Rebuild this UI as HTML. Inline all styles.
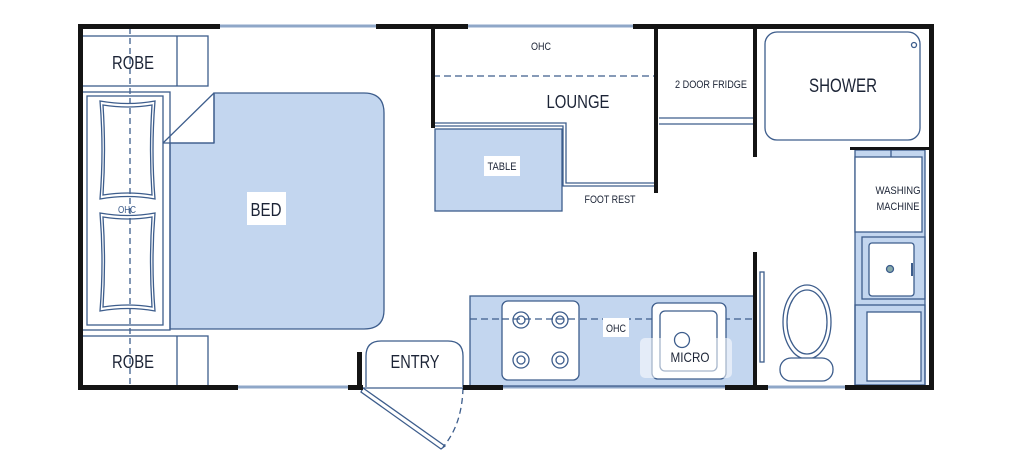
<!DOCTYPE html>
<html><head><meta charset="utf-8"><style>
html,body{margin:0;padding:0;background:#fff;}
svg{display:block;}
text{font-family:"Liberation Sans",sans-serif;fill:#1c2436;}
</style></head><body>
<svg width="1024" height="469" viewBox="0 0 1024 469" xmlns="http://www.w3.org/2000/svg">
<g fill="none" stroke="#3d5d8c" stroke-width="1.3">
<line x1="220" y1="26" x2="376" y2="26" stroke-width="3" stroke="#8fa7c8"/>
<line x1="468" y1="26" x2="633" y2="26" stroke-width="3" stroke="#8fa7c8"/>
<line x1="238" y1="387" x2="348" y2="387" stroke-width="3" stroke="#8fa7c8"/>
<line x1="503" y1="387" x2="725" y2="387" stroke-width="3" stroke="#8fa7c8"/>
<line x1="768" y1="387" x2="845" y2="387" stroke-width="3" stroke="#8fa7c8"/>
<line x1="363" y1="388" x2="463" y2="388"/>
</g>
<g fill="#c3d6ef" stroke="#3d5d8c" stroke-width="1.3">
<path d="M170,143 L214,143 L214,93 L364,93 Q384,93 384,113 L384,310 Q384,329 364,329 L170,329 Z"/>
<rect x="435" y="129" width="127" height="82"/>
<rect x="470" y="296" width="285" height="90"/>
<rect x="855" y="150" width="70" height="236"/>
</g>
<g fill="none" stroke="#3d5d8c" stroke-width="1.3">
<rect x="82" y="36" width="126" height="50" fill="#fff"/>
<line x1="177" y1="36" x2="177" y2="86"/>
<rect x="82" y="336" width="126" height="51" fill="#fff"/>
<line x1="177" y1="336" x2="177" y2="387"/>
<rect x="82" y="92" width="88" height="238"/>
<rect x="87" y="96" width="76" height="229"/>
<line x1="163" y1="143" x2="214" y2="93"/>
<line x1="214" y1="93" x2="214" y2="143"/>
<line x1="163" y1="143" x2="214" y2="143"/>
<path d="M100,101 Q128,106 155,101 Q151,150 155,199 Q128,194 100,199 Q104,150 100,101 Z"/>
<path d="M103,105 Q128,109 152,105 Q149,150 152,195 Q128,191 103,195 Q106,150 103,105 Z"/>
<path d="M100,213 Q128,218 155,213 Q151,262 155,311 Q128,306 100,311 Q104,262 100,213 Z"/>
<path d="M103,217 Q128,221 152,217 Q149,262 152,307 Q128,303 103,307 Q106,262 103,217 Z"/>
<line x1="130" y1="28" x2="130" y2="386" stroke-dasharray="6,4"/>
<path d="M366,387 L366,356 Q366,341 381,341 L448,341 Q463,341 463,356 L463,387"/>
<path d="M363,388 L445,446 L441,449 L361,392 Z" fill="#fff"/>
<path d="M463,388 Q462,425 443,447" stroke-dasharray="6,4"/>
<line x1="433" y1="76" x2="655" y2="76" stroke-dasharray="7,4"/>
<path d="M435,123 L566,123 L566,183 L655,183"/>
<path d="M435,126 L563,126 L563,186 L655,186"/>
<line x1="659" y1="118" x2="755" y2="118"/>
<line x1="659" y1="124" x2="755" y2="124"/>
<rect x="765" y="32" width="155" height="108" rx="12"/>
<circle cx="914" cy="45" r="2.5"/>
<rect x="855" y="157" width="67" height="75" fill="#fff"/>
<line x1="891" y1="150" x2="891" y2="157"/>
<rect x="862" y="237" width="63" height="62"/>
<rect x="869" y="243" width="45" height="53" rx="3" fill="#fff"/>
<circle cx="890" cy="269" r="3.5" fill="#8aa"/>
<line x1="912" y1="263" x2="912" y2="276" stroke-width="2"/>
<rect x="855" y="305" width="70" height="80"/>
<rect x="867" y="312" width="54" height="69" fill="#fff"/>
<rect x="760" y="272" width="4" height="90" fill="#fff"/>
<ellipse cx="807" cy="322" rx="24" ry="37" fill="#fff"/>
<ellipse cx="807" cy="322" rx="20" ry="32"/>
<rect x="780" y="358" width="53" height="23" rx="11" fill="#fff"/>
<line x1="470" y1="319" x2="755" y2="319" stroke-dasharray="7,4"/>
<rect x="502" y="301" width="77" height="79" rx="6" fill="#fff"/>
<line x1="502" y1="319" x2="579" y2="319" stroke-dasharray="7,4"/>
<circle cx="521" cy="320" r="8"/><circle cx="521" cy="320" r="4"/>
<circle cx="560" cy="320" r="8"/><circle cx="560" cy="320" r="4"/>
<circle cx="521" cy="360" r="8"/><circle cx="521" cy="360" r="4"/>
<circle cx="560" cy="360" r="8"/><circle cx="560" cy="360" r="4"/>
<rect x="652" y="303" width="74" height="76" rx="6" fill="#fff"/>
<rect x="660" y="311" width="57" height="60" rx="5"/>
<rect x="640" y="338" width="92" height="40" rx="5" fill="#fff" fill-opacity="0.55" stroke="none"/>
<circle cx="682" cy="340" r="7.5"/>
</g>
<g fill="#141414">
<rect x="78" y="24" width="142" height="5"/>
<rect x="376" y="24" width="92" height="5"/>
<rect x="633" y="24" width="301" height="5"/>
<rect x="78" y="24" width="5" height="366"/>
<rect x="929" y="24" width="5" height="366"/>
<rect x="78" y="385" width="160" height="5"/>
<rect x="348" y="385" width="15" height="5"/>
<rect x="357" y="352" width="5" height="36"/>
<rect x="463" y="385" width="40" height="5"/>
<rect x="725" y="385" width="43" height="5"/>
<rect x="845" y="385" width="89" height="5"/>
<rect x="431" y="26" width="4" height="102"/>
<rect x="654" y="26" width="4" height="167"/>
<rect x="753" y="26" width="4" height="131"/>
<rect x="753" y="252" width="4" height="136"/>
<rect x="850" y="147" width="84" height="3"/>
</g>
<rect x="247" y="192" width="39" height="33" fill="#fff"/>
<rect x="484" y="156" width="36" height="20" fill="#fff"/>
<rect x="603" y="318" width="26" height="19" fill="#fff"/>
<g text-anchor="middle" lengthAdjust="spacingAndGlyphs">
<text x="133" y="69" font-size="18" textLength="42" lengthAdjust="spacingAndGlyphs">ROBE</text>
<text x="133" y="368" font-size="18" textLength="42" lengthAdjust="spacingAndGlyphs">ROBE</text>
<text x="127" y="213" font-size="10" textLength="18" lengthAdjust="spacingAndGlyphs" style="fill:#3d5d8c">OHC</text>
<text x="266" y="216" font-size="18" textLength="31" lengthAdjust="spacingAndGlyphs">BED</text>
<text x="415" y="368" font-size="18" textLength="49" lengthAdjust="spacingAndGlyphs">ENTRY</text>
<text x="541" y="50" font-size="11" textLength="20" lengthAdjust="spacingAndGlyphs">OHC</text>
<text x="578" y="108" font-size="18" textLength="63" lengthAdjust="spacingAndGlyphs">LOUNGE</text>
<text x="502" y="170" font-size="11" textLength="29" lengthAdjust="spacingAndGlyphs">TABLE</text>
<text x="610" y="203" font-size="11" textLength="51" lengthAdjust="spacingAndGlyphs">FOOT REST</text>
<text x="711" y="88" font-size="11" textLength="72" lengthAdjust="spacingAndGlyphs">2 DOOR FRIDGE</text>
<text x="843" y="92" font-size="19" textLength="68" lengthAdjust="spacingAndGlyphs">SHOWER</text>
<text x="898" y="194" font-size="11" textLength="45" lengthAdjust="spacingAndGlyphs">WASHING</text>
<text x="898" y="210" font-size="11" textLength="43" lengthAdjust="spacingAndGlyphs">MACHINE</text>
<text x="616" y="332" font-size="11" textLength="20" lengthAdjust="spacingAndGlyphs">OHC</text>
<text x="690" y="362" font-size="14" textLength="39" lengthAdjust="spacingAndGlyphs">MICRO</text>
</g>
</svg>
</body></html>
